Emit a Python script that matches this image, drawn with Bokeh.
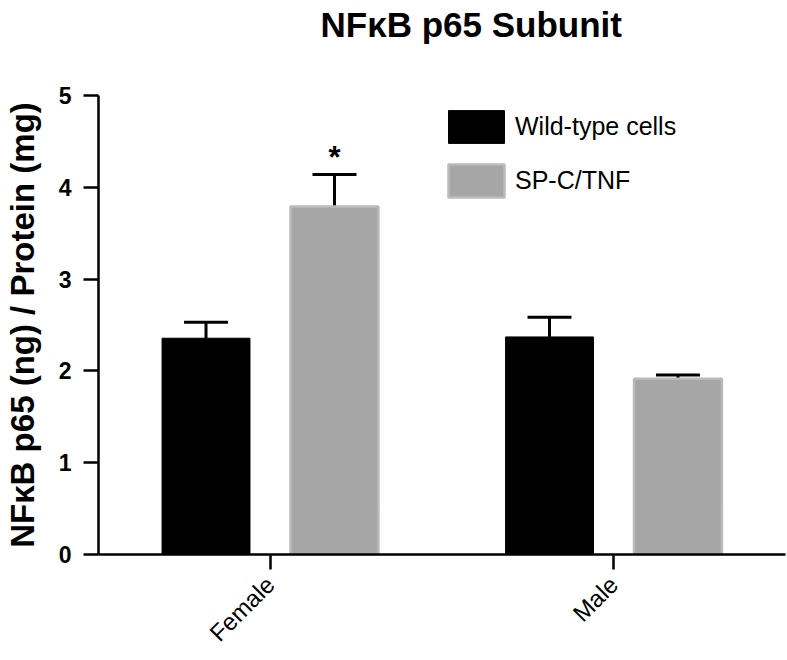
import math
from bokeh.plotting import figure
from bokeh.models import Range1d, FixedTicker, ColumnDataSource, Legend, LegendItem, Title
from bokeh.transform import dodge
from bokeh.core.properties import value
from bokeh.embed import file_html
from bokeh.resources import INLINE

# ---- data ----
categories = ["Female", "Male"]
wild_type = [2.356, 2.37]
wild_type_err = [0.175, 0.215]
sp_c_tnf = [3.79, 1.914]
sp_c_tnf_err = [0.35, 0.04]
significance = ["*", ""]
y_ticks = [0, 1, 2, 3, 4, 5]

FONT = "Liberation Sans"
OFF = 0.187
BAR_W = 0.256
CAP = 0.064

src = ColumnDataSource(dict(
    x=list(range(len(categories))),
    wt=wild_type,
    wt_top=[m + e for m, e in zip(wild_type, wild_type_err)],
    tnf=sp_c_tnf,
    tnf_top=[m + e for m, e in zip(sp_c_tnf, sp_c_tnf_err)],
    sig=significance,
))

p = figure(width=786, height=659, x_range=Range1d(-0.5, 1.5), y_range=Range1d(0, 5),
           output_backend="svg", toolbar_location=None,
           min_border_left=97, min_border_right=1, min_border_top=95, min_border_bottom=105)
p.outline_line_color = None
p.xgrid.visible = False
p.ygrid.visible = False
p.background_fill_color = "white"

# invisible (white) spacer next to the frame, then the title above it
spacer = Title(text=".", text_color="white", text_font_size="10px", standoff=40)
p.add_layout(spacer, "above")
main_title = Title(text="NFκB p65 Subunit", text_font=FONT, text_font_size="35px",
                   text_font_style="bold", text_color="black", align="left", offset=222,
                   vertical_align="top", standoff=0)
p.add_layout(main_title, "above")

# error bars (upper only)
for key, off in (("wt", -OFF), ("tnf", OFF)):
    p.segment(x0=dodge("x", off, range=p.x_range), y0=key,
              x1=dodge("x", off, range=p.x_range), y1=key + "_top",
              source=src, line_color="black", line_width=3)
    p.segment(x0=dodge("x", off - CAP, range=p.x_range), y0=key + "_top",
              x1=dodge("x", off + CAP, range=p.x_range), y1=key + "_top",
              source=src, line_color="black", line_width=3)

r_wt = p.vbar(x=dodge("x", -OFF, range=p.x_range), top="wt", bottom=0, width=BAR_W, source=src,
              fill_color="black", line_color="black", line_width=1)
r_tnf = p.vbar(x=dodge("x", OFF, range=p.x_range), top="tnf", bottom=0, width=BAR_W, source=src,
               fill_color="#a6a6a6", line_color="#bababa", line_width=2.5)

p.text(x=dodge("x", OFF, range=p.x_range), y="tnf_top", text="sig", source=src,
       text_font=value(FONT), text_font_size="31px", text_font_style="bold",
       text_align="center", text_baseline="alphabetic", y_offset=-17, text_color="black")

legend = Legend(items=[LegendItem(label="Wild-type cells", renderers=[r_wt]),
                       LegendItem(label="SP-C/TNF", renderers=[r_tnf])],
                location=(343, 353), glyph_width=70, glyph_height=41, label_height=41,
                label_standoff=4, spacing=13, padding=0, margin=0,
                border_line_color=None, background_fill_alpha=0,
                label_text_font=FONT, label_text_font_size="25px", label_text_baseline="middle",
                label_text_color="black")
p.add_layout(legend)

# y axis
ya = p.yaxis[0]
ya.ticker = FixedTicker(ticks=y_ticks, minor_ticks=[])
ya.axis_label = "NFκB p65 (ng) / Protein (mg)"
ya.axis_label_text_font = FONT
ya.axis_label_text_font_size = "33px"
ya.axis_label_text_font_style = "bold"
ya.axis_label_text_color = "black"
ya.axis_label_standoff = 15
ya.major_label_text_font = FONT
ya.major_label_text_font_size = "23px"
ya.major_label_text_font_style = "bold"
ya.major_label_text_color = "black"
ya.major_label_standoff = 12
ya.major_tick_out = 15
ya.major_tick_in = 0
ya.minor_tick_out = 0
ya.minor_tick_in = 0
ya.axis_line_width = 2.5
ya.major_tick_line_width = 2.5
ya.axis_line_color = "black"
ya.major_tick_line_color = "black"

# x axis
xa = p.xaxis[0]
xa.ticker = FixedTicker(ticks=list(range(len(categories))), minor_ticks=[])
xa.major_label_overrides = {i: c for i, c in enumerate(categories)}
xa.major_label_orientation = math.pi / 4
xa.major_label_text_font = FONT
xa.major_label_text_font_size = "24px"
xa.major_label_text_color = "black"
xa.major_label_standoff = 11
xa.major_tick_out = 15
xa.major_tick_in = 0
xa.minor_tick_out = 0
xa.minor_tick_in = 0
xa.axis_line_width = 2.5
xa.major_tick_line_width = 2.5
xa.axis_line_color = "black"
xa.major_tick_line_color = "black"

open("out.html", "w").write(file_html(p, INLINE))
